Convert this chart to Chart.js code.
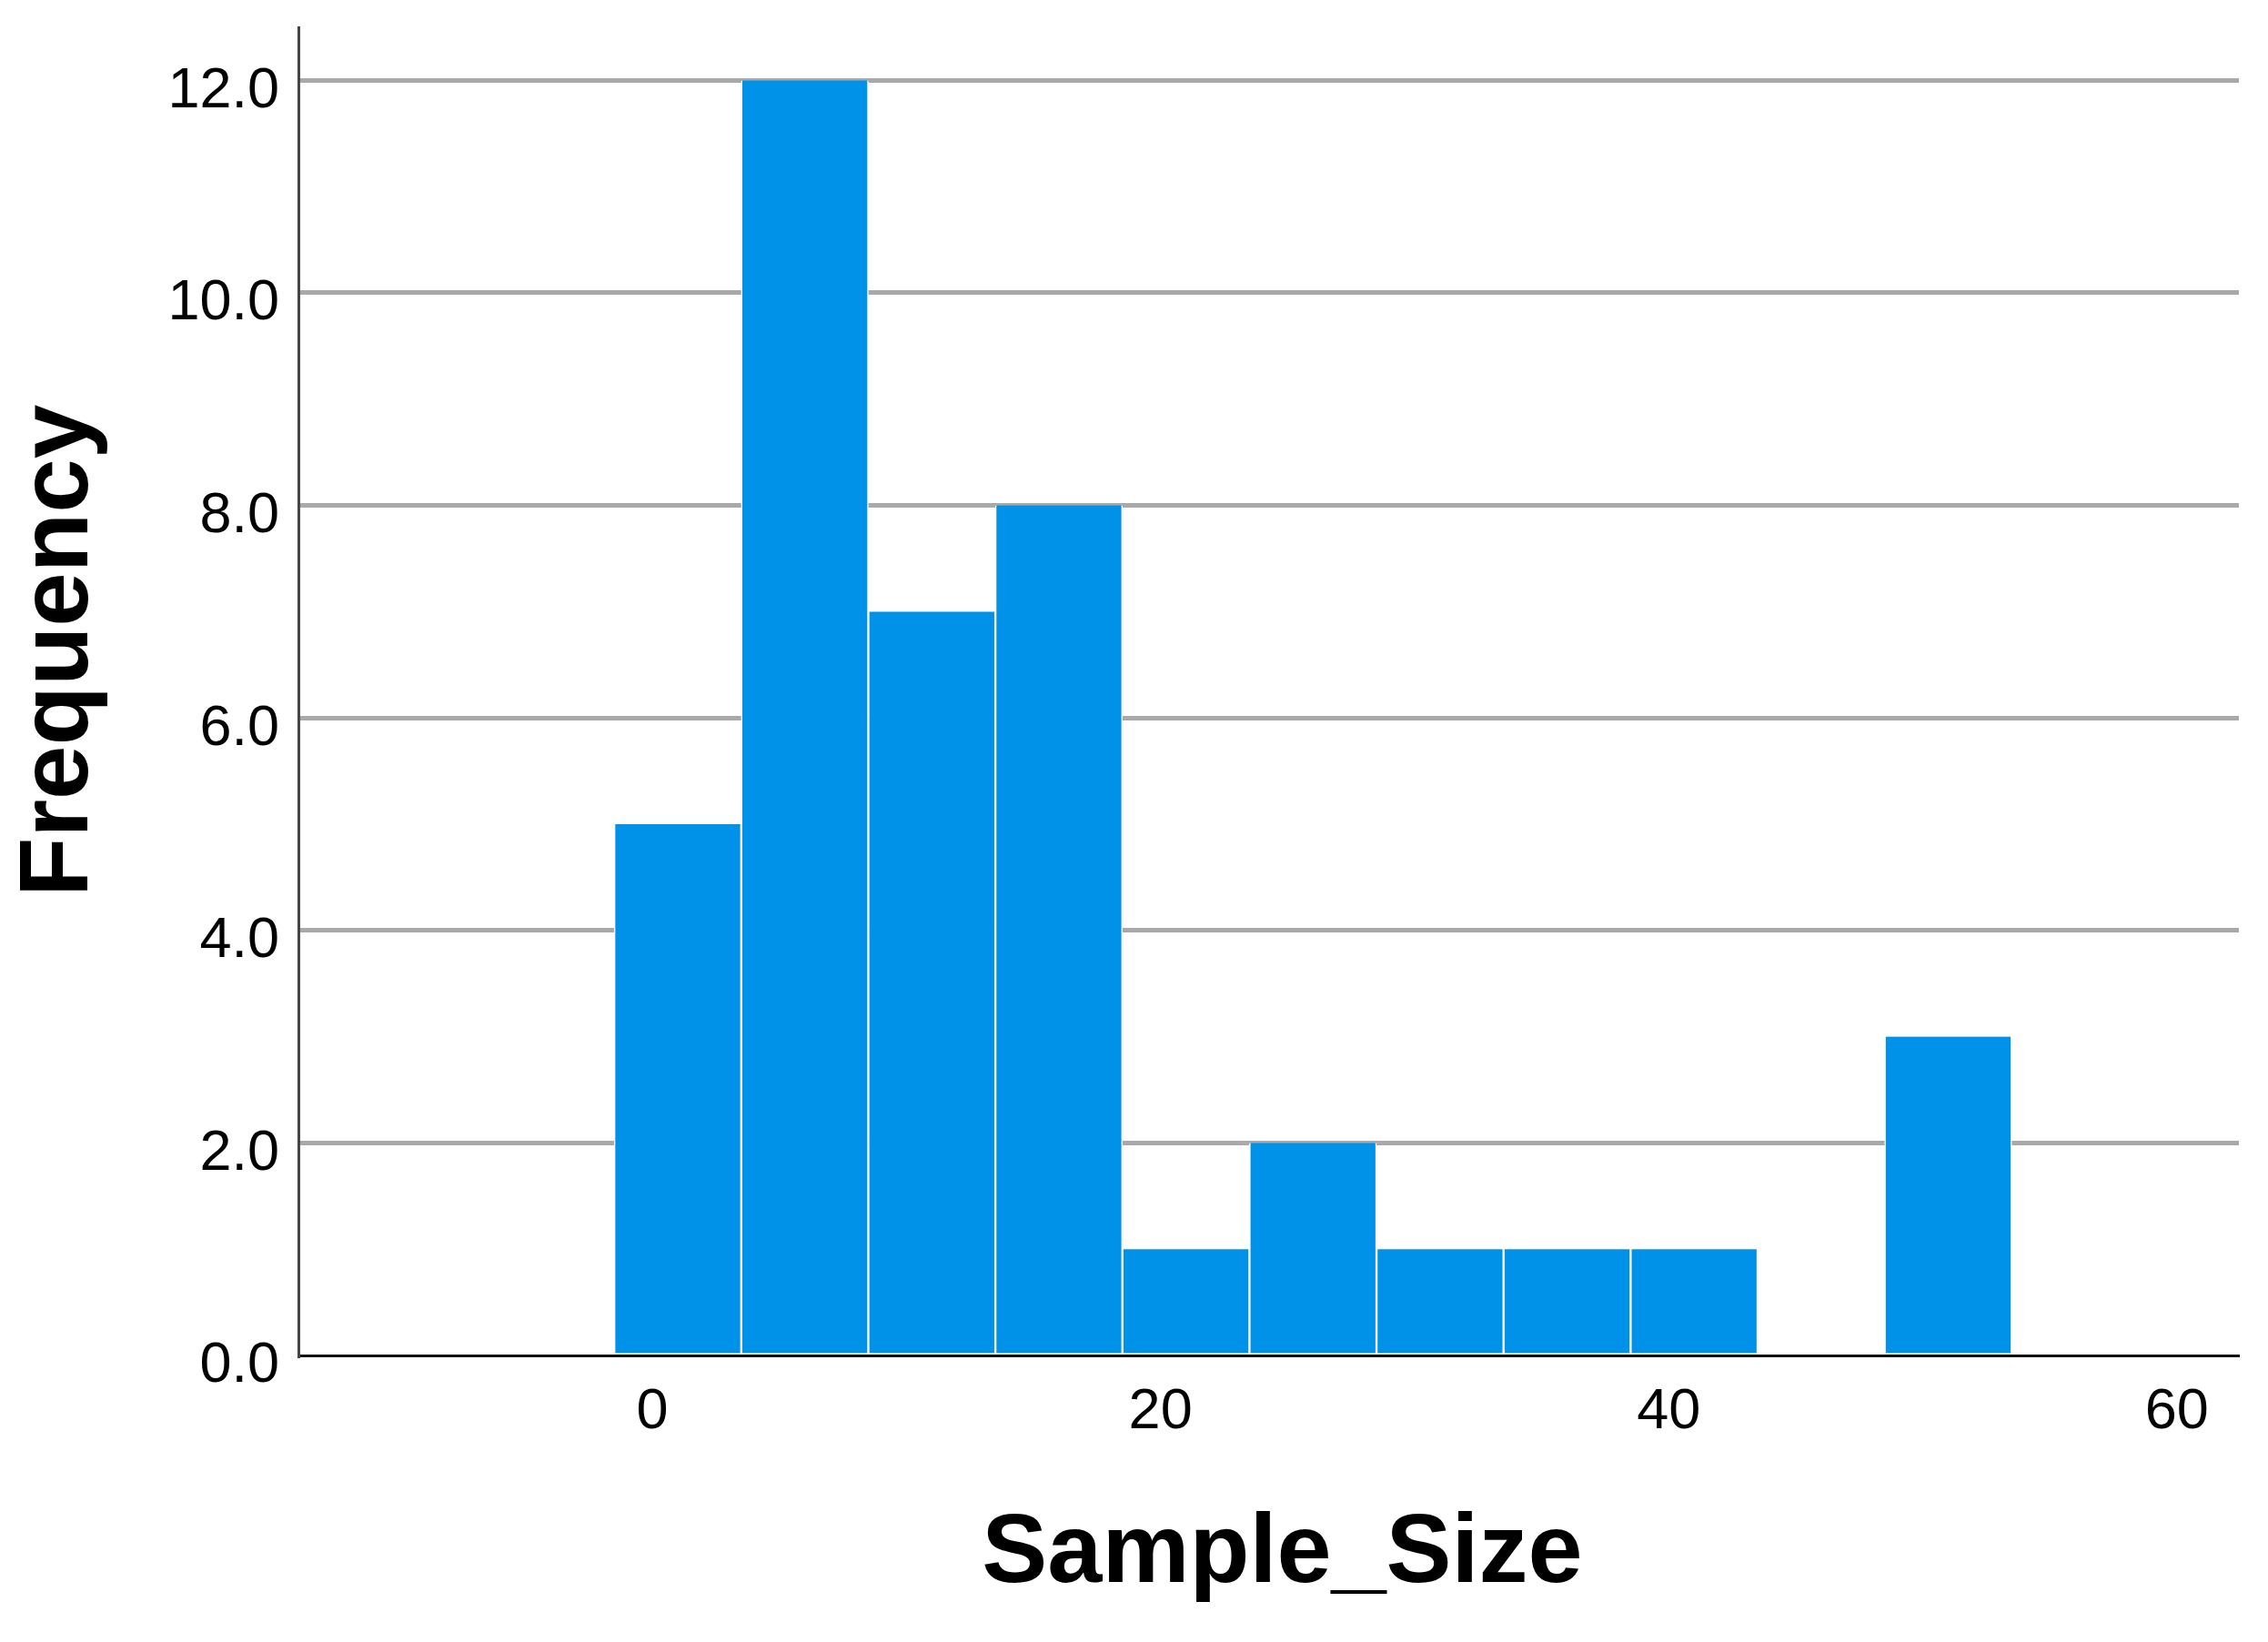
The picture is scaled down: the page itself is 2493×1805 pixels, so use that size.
<!DOCTYPE html>
<html>
<head>
<meta charset="utf-8">
<script src="https://cdn.jsdelivr.net/npm/chart.js@4/dist/chart.umd.min.js"></script>
<style>
  html, body { margin: 0; padding: 0; background: #ffffff; }
  #c { display: block; }
</style>
</head>
<body>
<canvas id="c" width="2493" height="1805"></canvas>
<script>
// ---- data (bins of width 5) ----
const binCenters = [1, 6, 11, 16, 21, 26, 31, 36, 41, 46, 51];
const frequencies = [5, 12, 7, 8, 1, 2, 1, 1, 1, 0, 3];
const xTicks = [0, 20, 40, 60];
const yTicks = [0, 2, 4, 6, 8, 10, 12];
const xTitle = 'Sample_Size';
const yTitle = 'Frequency';

const FONT = "'Liberation Sans', Arial, Helvetica, sans-serif";

const points = binCenters.map((c, i) => ({ x: c, y: frequencies[i] }));

new Chart(document.getElementById('c'), {
  type: 'bar',
  data: {
    datasets: [{
      data: points,
      backgroundColor: 'rgb(0,146,232)',
      borderColor: '#ffffff',
      borderWidth: { left: 1.5, right: 1.5, top: 0, bottom: 0 },
      borderSkipped: false,
      barPercentage: 1,
      categoryPercentage: 1
    }]
  },
  options: {
    responsive: false,
    animation: false,
    devicePixelRatio: 1,
    layout: { padding: { left: 0, right: 32, top: 30, bottom: 0 } },
    plugins: { legend: { display: false }, tooltip: { enabled: false } },
    scales: {
      x: {
        type: 'linear',
        offset: false,
        min: -13.93,
        max: 62.44,
        afterBuildTicks: (s) => { s.ticks = xTicks.map(v => ({ value: v })); },
        afterFit: (s) => { s.height = 315; s.paddingLeft = 0; s.paddingRight = 0; },
        grid: { display: false, drawTicks: false, offset: false },
        border: { display: true, color: '#111111', width: 3 },
        ticks: {
          color: '#000000',
          font: { family: FONT, size: 63 },
          padding: 25,
          maxRotation: 0,
          autoSkip: false,
          callback: (v) => String(v)
        },
        title: {
          display: true,
          text: ' ' + xTitle,
          color: '#000000',
          font: { family: FONT, size: 108, weight: 'bold' },
          padding: { top: 0, bottom: 31 }
        }
      },
      y: {
        type: 'linear',
        min: 0,
        max: 12.5,
        afterBuildTicks: (s) => { s.ticks = yTicks.map(v => ({ value: v })); },
        afterFit: (s) => { s.width = 328; s.paddingTop = 0; s.paddingBottom = 0; },
        grid: {
          drawTicks: false,
          lineWidth: 5,
          color: (ctx) => (ctx.tick && ctx.tick.value === 0) ? 'rgba(0,0,0,0)' : '#a9a9a9'
        },
        border: { display: true, color: '#444444', width: 3 },
        ticks: {
          color: '#000000',
          font: { family: FONT, size: 63 },
          padding: 21,
          labelOffset: 12,
          autoSkip: false,
          callback: (v) => Number(v).toFixed(1)
        },
        title: {
          display: true,
          text: '   ' + yTitle,
          color: '#000000',
          font: { family: FONT, size: 107, weight: 'bold' },
          padding: { top: 2, bottom: 0 }
        }
      }
    }
  }
});
</script>
</body>
</html>
